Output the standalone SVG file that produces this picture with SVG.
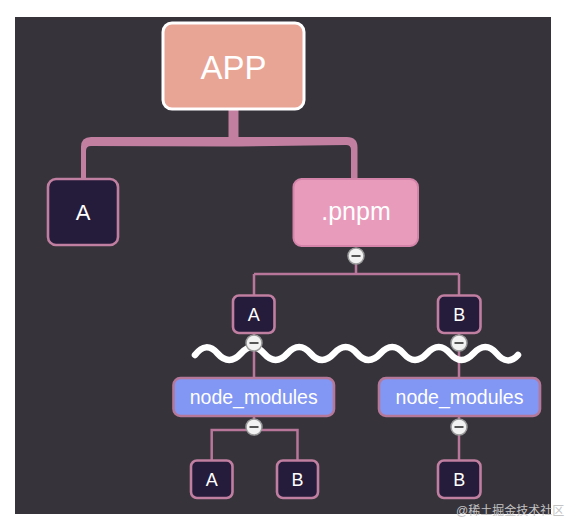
<svg xmlns="http://www.w3.org/2000/svg" width="568" height="522" viewBox="0 0 568 522">
<defs>
<style>
.bg{fill:#36333b}
.lbl{font-family:"Liberation Sans",Arial,sans-serif;fill:#ffffff;text-anchor:middle}
.dark{fill:#251b3b;stroke:#c07ea0;stroke-width:2.6}
.nm{fill:#8296f4;stroke:#b57899;stroke-width:2.6}
.ln{fill:none;stroke:#b8779a;stroke-width:2.5}
.col circle{fill:#f2f2f2;stroke:#9a9a9a;stroke-width:1.5}
.col line{stroke:#555;stroke-width:2}
.wm{font-family:"Liberation Sans","Noto Sans CJK SC",sans-serif;font-size:12px;fill:#c4c4c4}
</style>
<g id="collapse-sym">
</g>
</defs>
<rect x="0" y="0" width="568" height="522" fill="#ffffff"/>
<rect class="bg" x="15" y="17" width="536" height="497"/>

<g id="connectors">
<path fill="#c27fa0" d="M228.5,108 L238.5,108 L238.5,137 L347,137 Q357.5,137 357.5,147.5 L357.5,179 L351,179 L351,150 Q351,145 346,145 L238.5,146.5 L228.5,146.5 L91,146 Q86,146 86,151 L86,179 L81,179 L81,147 Q81,137 91,137 L228.5,137 Z"/>
<path class="ln" d="M356,256 V274 M254,274 H459 M254,274 V295 M459,274 V295"/>
<path class="ln" d="M254,333 V378 M459,333 V378"/>
<path class="ln" d="M254,416 V430 M211.7,460 V430 H297.5 V460"/>
<path class="ln" d="M459,416 V460"/>
</g>

<g id="app">
<rect x="163" y="23" width="141" height="86" rx="9" fill="#e8a596" stroke="#ffffff" stroke-width="3"/>
<text class="lbl" x="233.5" y="79" font-size="33">APP</text>
</g>
<g id="a-top">
<rect class="dark" x="48" y="179" width="70" height="66" rx="8"/>
<text class="lbl" x="83" y="220" font-size="22">A</text>
</g>
<g id="pnpm">
<rect x="293.5" y="179" width="124.5" height="67" rx="8" fill="#e89bbb" stroke="#d483a9" stroke-width="2"/>
<text class="lbl" x="356" y="220" font-size="25">.pnpm</text>
</g>
<g id="a-mid">
<rect class="dark" x="233" y="295.5" width="41.5" height="37.5" rx="6"/>
<text class="lbl" x="253.7" y="320.5" font-size="18">A</text>
</g>
<g id="b-mid">
<rect class="dark" x="438" y="295.5" width="42.5" height="37.5" rx="6"/>
<text class="lbl" x="459.2" y="320.5" font-size="18">B</text>
</g>

<path id="wave" fill="none" stroke="#ffffff" stroke-width="6.5" stroke-linecap="round" stroke-linejoin="round" d="M195,355 Q206,340.5 217.6,353.5 T240.9,353.5 T264.1,353.5 T287.4,353.5 T310.6,353.5 T333.9,353.5 T357.1,353.5 T380.4,353.5 T403.6,353.5 T426.9,353.5 T450.1,353.5 T473.4,353.5 T496.6,353.5 T518,355"/>

<g id="nm-left">
<rect class="nm" x="173.5" y="378" width="160.5" height="38" rx="7"/>
<text class="lbl" x="253.7" y="403.5" font-size="19.5">node_modules</text>
</g>
<g id="nm-right">
<rect class="nm" x="379" y="378" width="161" height="38" rx="7"/>
<text class="lbl" x="459.5" y="403.5" font-size="19.5">node_modules</text>
</g>
<g id="a-bot">
<rect class="dark" x="191" y="460.5" width="41.5" height="37.5" rx="6"/>
<text class="lbl" x="211.7" y="485.5" font-size="18">A</text>
</g>
<g id="b-bot1">
<rect class="dark" x="277" y="460.5" width="41" height="37.5" rx="6"/>
<text class="lbl" x="297.5" y="485.5" font-size="18">B</text>
</g>
<g id="b-bot2">
<rect class="dark" x="438" y="460.5" width="42.5" height="37.5" rx="6"/>
<text class="lbl" x="459.2" y="485.5" font-size="18">B</text>
</g>

<g id="collapse-buttons" class="col">
<g><circle cx="356" cy="256" r="8"/><line x1="351.5" y1="256" x2="360.5" y2="256"/></g>
<g><circle cx="254" cy="343" r="8"/><line x1="249.5" y1="343" x2="258.5" y2="343"/></g>
<g><circle cx="459" cy="343" r="8"/><line x1="454.5" y1="343" x2="463.5" y2="343"/></g>
<g><circle cx="254" cy="427" r="8"/><line x1="249.5" y1="427" x2="258.5" y2="427"/></g>
<g><circle cx="459" cy="427" r="8"/><line x1="454.5" y1="427" x2="463.5" y2="427"/></g>
</g>

<text class="wm" x="456" y="515">@稀土掘金技术社区</text>
</svg>
